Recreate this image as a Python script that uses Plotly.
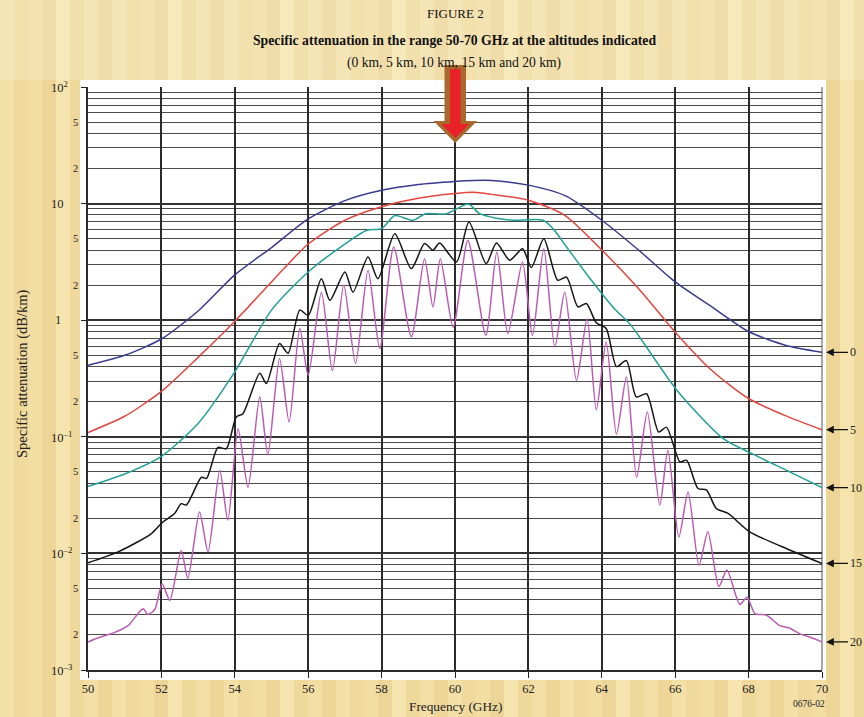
import math
import plotly.graph_objects as go

# ---------------- data ----------------
freq_0km = [50, 51, 52, 53, 54, 55, 56, 57, 58, 59, 60, 60.5, 61, 62, 63, 64, 65, 66, 67, 68, 69, 70]
att_0km = [0.41, 0.50, 0.69, 1.2, 2.45, 4.2, 7.4, 10.6, 13.0, 14.6, 15.5, 15.8, 15.8, 14.4, 11.7, 7.2, 4.0, 2.13, 1.30, 0.80, 0.61, 0.53]

freq_5km = [50, 51, 52, 53, 54, 55, 56, 57, 58, 59, 60, 60.5, 61, 62, 63, 64, 65, 66, 67, 68, 69, 70]
att_5km = [0.109, 0.150, 0.245, 0.48, 0.98, 2.13, 4.5, 7.2, 9.4, 11.1, 12.2, 12.5, 12.0, 10.7, 7.9, 4.0, 1.87, 0.79, 0.37, 0.213, 0.152, 0.115]

freq_10km = [50, 51, 52, 53, 54, 55, 56, 57, 57.6, 58.0, 58.36, 58.85, 59.2, 59.77, 60.36, 60.67, 61.13,
             61.58, 62.4, 62.67, 63.04, 63.58, 64.3, 64.76, 65.0, 66.05, 67.3, 68.08, 69.12, 70]
att_10km = [0.0376, 0.048, 0.068, 0.13, 0.36, 1.22, 2.59, 4.5, 5.9, 6.1, 7.9, 7.2, 8.2, 8.2, 9.9, 8.2, 7.5,
            7.2, 7.2, 6.1, 4.25, 2.5, 1.3, 0.93, 0.74, 0.25, 0.097, 0.072, 0.05, 0.0366]

freq_15km = [50, 50.82, 51.73, 52.04, 52.36, 52.54, 52.68, 53.09, 53.23, 53.54, 53.77, 54.04, 54.22, 54.68,
             54.86, 55.22, 55.45, 55.77, 56.0, 56.36, 56.59, 57.0, 57.22, 57.63, 57.9, 58.36, 58.81, 59.17,
             59.4, 59.58, 60.04, 60.38, 60.85, 61.13, 61.49, 61.84, 62.08, 62.42, 62.8, 63.04, 63.35, 63.58,
             63.85, 64.12, 64.4, 64.67, 64.94, 65.22, 65.55, 65.76, 66.13, 66.31, 66.62, 66.85, 67.12,
             67.44, 68.03, 69.12, 70]
att_15km = [0.0083, 0.0103, 0.0148, 0.0186, 0.022, 0.0267, 0.026, 0.045, 0.044, 0.081, 0.079, 0.148, 0.158,
            0.35, 0.286, 0.63, 0.52, 1.22, 1.10, 2.27, 1.48, 2.59, 1.74, 3.48, 2.27, 5.5, 2.77, 4.54,
            3.98, 4.6, 3.16, 6.95, 3.06, 4.6, 3.27, 4.1, 2.83, 5.0, 2.2, 2.34, 1.3, 1.39,
            0.95, 0.85, 0.40, 0.45, 0.22, 0.234, 0.11, 0.121, 0.061, 0.063, 0.036, 0.035, 0.0243,
            0.022, 0.0153, 0.0107, 0.0082]

freq_20km = [50, 50.3, 50.73, 51.09, 51.5, 51.63, 51.82, 52.02, 52.23, 52.54, 52.72, 53.04, 53.27, 53.59,
             53.81, 54.09, 54.36, 54.68, 54.9, 55.22, 55.48, 55.77, 56.0, 56.36, 56.66, 56.97, 57.29,
             57.63, 57.95, 58.33, 58.81, 59.17, 59.4, 59.6, 59.95, 60.35, 60.84, 61.14, 61.44, 61.84,
             62.11, 62.42, 62.72, 62.99, 63.31, 63.6, 63.85, 64.12, 64.4, 64.67, 64.95, 65.24, 65.58,
             65.8, 66.1, 66.35, 66.65, 66.89, 67.19, 67.41, 67.76, 67.96, 68.17, 68.49, 68.85, 69.1,
             69.39, 69.7, 70]
att_20km = [0.00174, 0.0019, 0.0021, 0.0024, 0.00336, 0.0030, 0.0033, 0.0055, 0.00395, 0.0106, 0.0061,
            0.0227, 0.0103, 0.0516, 0.0192, 0.117, 0.037, 0.22, 0.07, 0.47, 0.134, 0.85, 0.337, 1.74,
            0.37, 2.0, 0.425, 2.68, 0.57, 4.25, 0.72, 3.37, 1.3, 3.37, 0.87, 4.86, 0.74, 3.85, 0.77,
            3.16, 0.74, 4.1, 0.59, 1.74, 0.305, 1.03, 0.17, 0.65, 0.105, 0.326, 0.045, 0.163, 0.026,
            0.0766, 0.0138, 0.0337, 0.0079, 0.0153, 0.0052, 0.0072, 0.00366, 0.0042, 0.00305, 0.00295,
            0.0024, 0.0023, 0.00205, 0.0019, 0.00174]

altitude_labels = ["0", "5", "10", "15", "20"]
x_ticks = [50, 52, 54, 56, 58, 60, 62, 64, 66, 68, 70]
y_label_vals = [1e2, 5e1, 2e1, 1e1, 5, 2, 1, 0.5, 0.2, 0.1, 0.05, 0.02, 0.01, 0.005, 0.002, 0.001]
y_label_text = ["10<sup>2</sup>", "5", "2", "10", "5", "2", "1", "5", "2", "10<sup>–1</sup>", "5", "2",
                "10<sup>–2</sup>", "5", "2", "10<sup>–3</sup>"]
decades = [1e-3, 1e-2, 1e-1, 1, 10, 100]
minor_grid = [m * d for d in decades[:-1] for m in range(2, 10)]

# ---------------- layout helpers (pixel -> paper) ----------------
W, H = 864, 717
L, R, T, B = 88, 42, 87, 47
PW, PH = W - L - R, H - T - B


def px(x):
    return (x - L) / PW


def py(y):
    return (H - B - y) / PH


serif = "Liberation Serif"
colors = ["#3a3a8e", "#e2463f", "#22a196", "#151515", "#bb5cb4"]
series = [(freq_0km, att_0km), (freq_5km, att_5km), (freq_10km, att_10km),
          (freq_15km, att_15km), (freq_20km, att_20km)]

fig = go.Figure()
for (fx, ay), col in zip(series, colors):
    fig.add_trace(go.Scatter(x=fx, y=ay, mode="lines", hoverinfo="skip",
                             line=dict(color=col, width=1.5, shape="spline", smoothing=0.7)))

shapes = []
# soft streaky beige background
tones = ["#F3E0A6", "#EFD99C", "#F2DDA2", "#EDD597", "#F5E4AE", "#EED89A", "#F3DFA5", "#EED698"]
sw = 14
for i in range(0, W // sw + 1):
    shapes.append(dict(type="rect", xref="paper", yref="paper", layer="below",
                       x0=px(i * sw), x1=px(i * sw + sw + 1), y0=py(H), y1=py(0),
                       fillcolor=tones[i % len(tones)], line=dict(width=0)))
# lighter wash behind the title area
shapes.append(dict(type="rect", xref="paper", yref="paper", layer="below",
                   x0=px(0), x1=px(W), y0=py(80), y1=py(0),
                   fillcolor="white", opacity=0.18, line=dict(width=0)))
# white card behind the plot
shapes.append(dict(type="rect", xref="paper", yref="paper", layer="below",
                   x0=px(80), x1=px(826), y0=py(680), y1=py(80),
                   fillcolor="white", line=dict(width=0)))


def poly(pts):
    return "M " + " L ".join(f"{px(a):.5f},{py(b):.5f}" for a, b in pts) + " Z"


outer = [(444.5, 65), (466, 65), (466, 121), (477, 121), (455.3, 143), (433.5, 121), (444.5, 121)]
inner = [(450, 69), (460.6, 69), (460.6, 124), (469.5, 124), (455.3, 138), (441, 124), (450, 124)]
shapes.append(dict(type="path", xref="paper", yref="paper", layer="above", path=poly(outer),
                   fillcolor="#A8692C", line=dict(width=0)))
shapes.append(dict(type="path", xref="paper", yref="paper", layer="above", path=poly(inner),
                   fillcolor="#E82228", line=dict(width=0)))

ann = []


def txt(text, x, y, size, angle=0, color="#111"):
    ann.append(dict(text=text, x=px(x), y=py(y), xref="paper", yref="paper", showarrow=False,
                    xanchor="center", yanchor="middle", textangle=angle,
                    font=dict(family=serif, size=size, color=color)))


txt("FIGURE 2", 455, 14, 13)
txt("<b>Specific attenuation in the range 50-70 GHz at the altitudes indicated</b>", 454, 40, 13.7)
txt("(0 km, 5 km, 10 km, 15 km and 20 km)", 454, 63, 13.6)
txt("Specific attenuation (dB/km)", 22, 374, 14.5, angle=-90, color="#222")
txt("Frequency (GHz)", 455, 706, 13.3, color="#222")
txt("0676-02", 809, 704, 9.5, color="#222")

for v, t in zip(y_label_vals, y_label_text):
    lv = math.log10(v)
    if t in ("5", "2"):
        ann.append(dict(text=t, x=px(79.5), y=lv, xref="paper", yref="y", xanchor="right",
                        yanchor="middle", showarrow=False,
                        font=dict(family=serif, size=10.5, color="#222")))
    elif t == "1":
        ann.append(dict(text=t, x=px(63), y=lv, xref="paper", yref="y", xanchor="right",
                        yanchor="middle", showarrow=False,
                        font=dict(family=serif, size=12.5, color="#222")))
    else:
        ann.append(dict(text=t, x=px(49), y=lv, xref="paper", yref="y", xanchor="left",
                        yanchor="middle", showarrow=False,
                        font=dict(family=serif, size=12.5, color="#222")))

for (fx, ay), lab in zip(series, altitude_labels):
    ann.append(dict(text=lab, x=fx[-1], y=math.log10(ay[-1]), xref="x", yref="y",
                    showarrow=True, arrowhead=2, arrowsize=1.2, arrowwidth=1.3, arrowcolor="#111",
                    ax=26, ay=0, standoff=4, xanchor="left",
                    font=dict(family=serif, size=12, color="#222")))

fig.update_layout(
    width=W, height=H, margin=dict(l=L, r=R, t=T, b=B),
    paper_bgcolor="#F1DB9C", plot_bgcolor="white", showlegend=False,
    shapes=shapes, annotations=ann,
    xaxis=dict(range=[50, 70], tickvals=x_ticks, ticks="outside", ticklen=6, tickcolor="#222",
               tickwidth=1.3, showgrid=True, gridcolor="#2b2b2b", gridwidth=1.5, zeroline=False,
               showline=True, linecolor="#2b2b2b", linewidth=1.5, mirror=False,
               tickfont=dict(family=serif, size=12.5, color="#222")),
    yaxis=dict(type="log", range=[-3, 2], tickvals=decades, ticks="outside", ticklen=5,
               tickcolor="#222", tickwidth=1.3, showticklabels=False, showgrid=True,
               gridcolor="#333333", gridwidth=1.5, zeroline=False,
               showline=True, linecolor="#2b2b2b", linewidth=1.5, mirror=False,
               minor=dict(tickvals=minor_grid, showgrid=True, gridcolor="#4a4a4a", gridwidth=1.3,
                          ticks="")),
)
# right border
fig.add_shape(type="line", xref="paper", yref="paper", x0=1, x1=1, y0=0, y1=1,
              line=dict(color="#8a8a8a", width=1.5), layer="below")

fig.write_html("out.html")
